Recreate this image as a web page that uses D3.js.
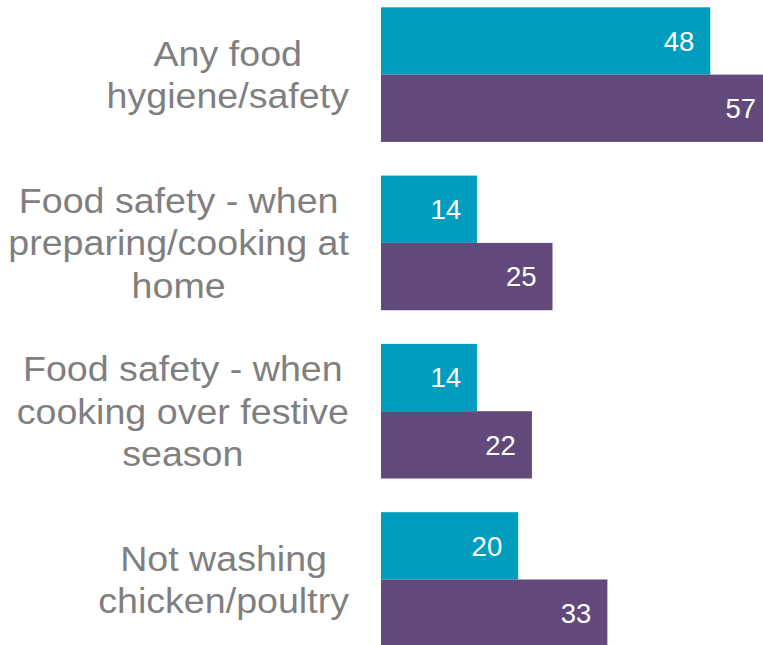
<!DOCTYPE html>
<html>
<head>
<meta charset="utf-8">
<script src="https://cdn.jsdelivr.net/npm/d3@7"></script>
<style>
  html, body { margin: 0; padding: 0; background: #fff; }
  svg { display: block; }
  text { font-family: Arial, "Liberation Sans", Helvetica, sans-serif; }
</style>
</head>
<body>
<svg id="chart" width="763" height="645"></svg>
<script>
// Categories (each an array of wrapped lines) and the two series
const categories = [
  ["Any food", "hygiene/safety"],
  ["Food safety - when", "preparing/cooking at", "home"],
  ["Food safety - when", "cooking over festive", "season"],
  ["Not washing", "chicken/poultry"]
];
const seriesA = [48, 14, 14, 20];
const seriesB = [57, 25, 22, 33];
const seriesNames = ["A", "B"];
const seriesColors = ["#009DBF", "#614A7B"];

const svg = d3.select("#chart");
const W = 763, H = 645;

const x = d3.scaleLinear().domain([0, 57]).range([381, 381 + 57 * 6.86]);
const y = d3.scaleBand()
  .domain(d3.range(categories.length))
  .range([7.3, 646.8])
  .paddingInner(0.2)
  .paddingOuter(0);
const ySub = d3.scaleBand().domain(seriesNames).range([0, y.bandwidth()]);

const rows = categories.map((c, i) => ({ i, lines: c, vals: [seriesA[i], seriesB[i]] }));

const clip = svg.append("defs").append("clipPath").attr("id", "plotclip");
clip.append("rect").attr("x", 0).attr("y", 0).attr("width", W).attr("height", H);

const g = svg.append("g").attr("clip-path", "url(#plotclip)");

const groups = g.selectAll("g.row").data(rows).join("g")
  .attr("class", "row")
  .attr("transform", d => `translate(0,${y(d.i)})`);

groups.each(function (d) {
  const sel = d3.select(this);
  d.vals.forEach((v, k) => {
    const yy = ySub(seriesNames[k]);
    sel.append("rect")
      .attr("x", x(0))
      .attr("y", yy)
      .attr("width", x(v) - x(0))
      .attr("height", ySub.bandwidth())
      .attr("fill", seriesColors[k]);
    sel.append("text")
      .attr("x", x(v) - 16)
      .attr("y", yy + ySub.bandwidth() / 2)
      .attr("dy", "0.36em")
      .attr("text-anchor", "end")
      .attr("fill", "#fff")
      .attr("font-size", 27.5)
      .text(v);
  });
});

// Category labels: each block centred on its own widest line, block right-aligned,
// set in a slightly widened face
const labelRight = 349;
const lineH = 42.5;
const stretch = 1.09;
const labels = svg.append("g");
rows.forEach(d => {
  const cy = y(d.i) + y.bandwidth() / 2;
  const n = d.lines.length;
  const tg = labels.append("g");
  const texts = d.lines.map((ln, j) =>
    tg.append("text")
      .attr("x", 0)
      .attr("y", cy + (j - (n - 1) / 2) * lineH)
      .attr("dy", "0.36em")
      .attr("text-anchor", "middle")
      .attr("fill", "#7F7F7F")
      .attr("font-size", 34.5)
      .text(ln)
  );
  const maxW = d3.max(texts, t => t.node().getComputedTextLength());
  tg.attr("transform", `translate(${labelRight - maxW * stretch / 2},0) scale(${stretch},1)`);
});
</script>
</body>
</html>
